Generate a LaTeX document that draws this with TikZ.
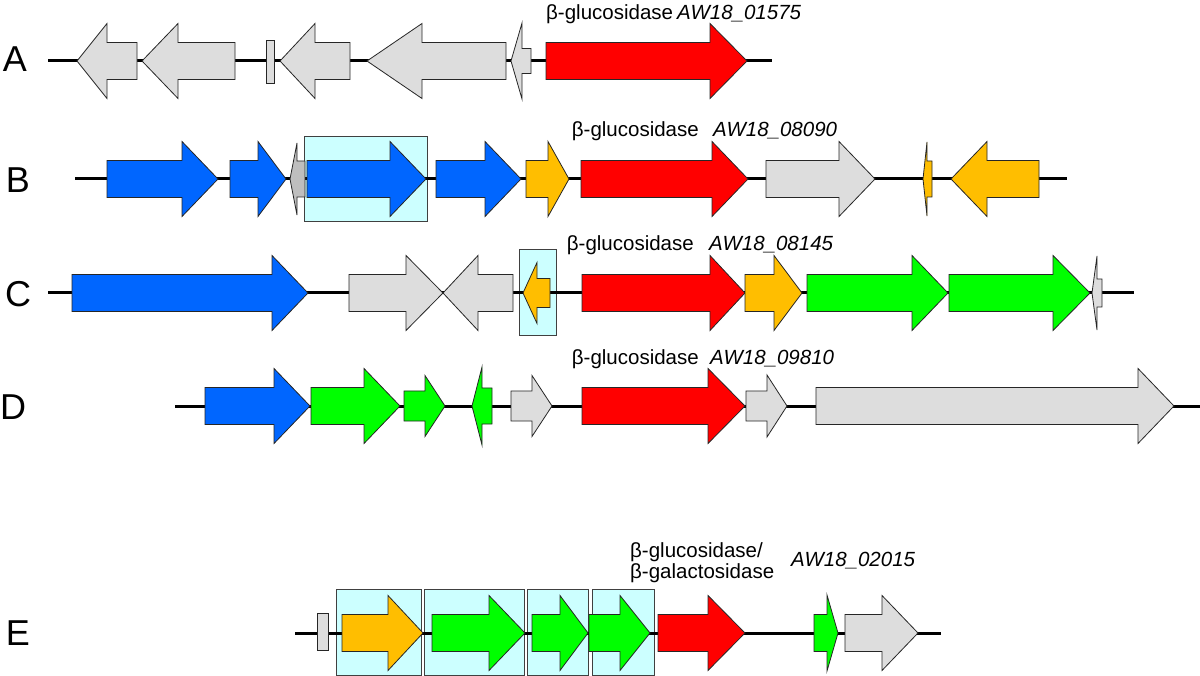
\documentclass[tikz,border=0pt]{standalone}
\usepackage{fontspec}
\setmainfont{Liberation Sans}
\definecolor{gblue}{RGB}{0,102,255}
\definecolor{gred}{RGB}{255,0,0}
\definecolor{gorange}{RGB}{255,190,0}
\definecolor{ggreen}{RGB}{0,255,0}
\definecolor{ggray}{RGB}{221,221,221}
\definecolor{gdgray}{RGB}{190,190,190}
\definecolor{gcyan}{RGB}{204,255,255}
\tikzset{
  gene/.style={draw=black!85,line width=0.8pt,line join=miter},
  hlbox/.style={draw=black!75,line width=0.8pt,fill=gcyan},
  backbone/.style={draw=black,line width=3pt},
  lab/.style={inner sep=0pt,font=\fontsize{20.5}{24}\selectfont},
  rowlab/.style={inner sep=0pt,font=\fontsize{36}{40}\selectfont},
}
% tail, head base, tip, y, body half-height, head half-height, colour
\newcommand\genearrow[7]{%
  \draw[gene,fill=#7] (#1,#4-#5) -- (#2,#4-#5) -- (#2,#4-#6) -- (#3,#4)
    -- (#2,#4+#6) -- (#2,#4+#5) -- (#1,#4+#5) -- cycle;}
\newcommand\stdgene[5]{\genearrow{#1}{#2}{#3}{#4}{18.5}{37.5}{#5}}
\begin{document}
\begin{tikzpicture}[x=1pt,y=-1pt]
\useasboundingbox (0,0) rectangle (1200,676);

% ---------- row letters
\node[rowlab] (A) at (15,59) {A};
\node[rowlab] (B) at (18,180) {B};
\node[rowlab] (C) at (18,294) {C};
\node[rowlab] (D) at (13,407) {D};
\node[rowlab] (E) at (18,633) {E};

% ---------- highlight boxes
\draw[hlbox] (304,136) rectangle (427,221);
\draw[hlbox] (519,249) rectangle (556,335);
\draw[hlbox] (336,589) rectangle (421,675);
\draw[hlbox] (424,589) rectangle (524,675);
\draw[hlbox] (527,589) rectangle (588,675);
\draw[hlbox] (592,589) rectangle (654,675);

% ---------- backbones
\draw[backbone] (48,61) -- (772,61);
\draw[backbone] (75,179) -- (1067,179);
\draw[backbone] (48,293) -- (1134,293);
\draw[backbone] (175,406) -- (1200,406);
\draw[backbone] (295,633) -- (941,633);

% ---------- row A
\stdgene{137}{107}{77}{61}{ggray}
\stdgene{235}{178}{142}{61}{ggray}
\draw[gene,fill=ggray] (266,40) rectangle (274,83);
\stdgene{350}{315}{280}{61}{ggray}
\stdgene{506}{422}{367}{61}{ggray}
\genearrow{531}{522}{511}{61}{12.5}{38}{ggray}
\stdgene{546}{710}{747}{61}{gred}

% ---------- row B
\stdgene{107}{182}{218}{179}{gblue}
\stdgene{230}{258}{286}{179}{gblue}
\genearrow{305}{297}{290}{179}{18}{36}{gdgray}
\stdgene{307}{390}{426}{179}{gblue}
\stdgene{436}{485}{521}{179}{gblue}
\stdgene{526}{548}{569}{179}{gorange}
\stdgene{581}{712}{748}{179}{gred}
\stdgene{766}{839}{875}{179}{ggray}
\genearrow{932}{927}{923}{179}{18}{37}{gorange}
\stdgene{1039}{987}{951}{179}{gorange}

% ---------- row C
\stdgene{72}{272}{308}{293}{gblue}
\stdgene{349}{406}{443}{293}{ggray}
\stdgene{513}{478}{443}{293}{ggray}
\genearrow{550}{537}{523}{293}{14.5}{30.5}{gorange}
\stdgene{582}{710}{745}{293}{gred}
\stdgene{745}{774}{802}{293}{gorange}
\stdgene{807}{912}{948}{293}{ggreen}
\stdgene{949}{1053}{1090}{293}{ggreen}
\genearrow{1102}{1097}{1092}{293}{14}{37}{ggray}

% ---------- row D
\stdgene{205}{274}{310}{406}{gblue}
\stdgene{311}{364}{400}{406}{ggreen}
\genearrow{404}{425}{445}{406}{15}{30.5}{ggreen}
\genearrow{492}{482}{472}{406}{18}{39}{ggreen}
\genearrow{511}{532}{552}{406}{15}{30.5}{ggray}
\stdgene{582}{708}{745}{406}{gred}
\genearrow{746}{767}{787}{406}{15}{31}{ggray}
\stdgene{816}{1138}{1174}{406}{ggray}

% ---------- row E
\draw[gene,fill=ggray] (317,613) rectangle (328,650);
\stdgene{342}{388}{423}{633}{gorange}
\stdgene{432}{489}{525}{633}{ggreen}
\stdgene{532}{560}{588}{633}{ggreen}
\stdgene{589}{620}{650}{633}{ggreen}
\stdgene{658}{708}{745}{633}{gred}
\genearrow{814}{827}{838}{633}{18.5}{38}{ggreen}
\stdgene{845}{882}{918}{633}{ggray}

% ---------- labels
\node[lab,anchor=base west] (la1) at (546,20) {β-glucosidase};
\node[lab,anchor=base west] (la2) at (677,20) {\itshape AW18\_01575};
\node[lab,anchor=base east] (lb1) at (699,137) {β-glucosidase};
\node[lab,anchor=base west] (lb2) at (713,137) {\itshape AW18\_08090};
\node[lab,anchor=base east] (lc1) at (694,251) {β-glucosidase};
\node[lab,anchor=base west] (lc2) at (709,251) {\itshape AW18\_08145};
\node[lab,anchor=base east] (ld1) at (699,365) {β-glucosidase};
\node[lab,anchor=base west] (ld2) at (710,365) {\itshape AW18\_09810};
\node[lab,anchor=base west] (le1) at (630,557) {β-glucosidase/};
\node[lab,anchor=base west] (le2) at (630,578) {β-galactosidase};
\node[lab,anchor=base west] (le3) at (791,566) {\itshape AW18\_02015};
\end{tikzpicture}
\end{document}
